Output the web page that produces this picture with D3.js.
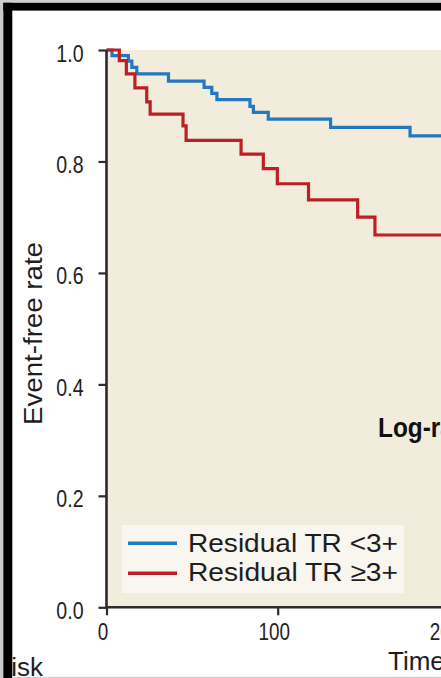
<!DOCTYPE html>
<html>
<head>
<meta charset="utf-8">
<script src="https://cdn.jsdelivr.net/npm/d3@7"></script>
<style>
  html, body { margin: 0; padding: 0; background: #fff; }
  svg { display: block; }
</style>
</head>
<body>
<div id="chart"></div>
<script>
// Kaplan–Meier event-free curves by residual TR grade
const blueTime = [0, 3.2, 12.8, 14.8, 17.7, 36.2, 57, 61.5, 64.5, 83.8, 85.8, 94.5, 130.9, 177.3, 200];
const blueSurv = [1, 0.990, 0.980, 0.969, 0.957, 0.944, 0.933, 0.922, 0.911, 0.899, 0.888, 0.876, 0.861, 0.846, 0.846];
const redTime  = [0, 7.5, 11.6, 16.6, 23.5, 25.5, 44.7, 46.5, 78.6, 91.6, 99.8, 118, 146.7, 156.8, 200];
const redSurv  = [1, 0.981, 0.957, 0.932, 0.907, 0.885, 0.864, 0.838, 0.813, 0.787, 0.760, 0.731, 0.700, 0.668, 0.668];

const seriesNames = ["Residual TR <3+", "Residual TR \u22653+"];
const seriesColors = ["#2477c0", "#bb2026"];
const yTicks = [0, 0.2, 0.4, 0.6, 0.8, 1.0];
const xTicks = [0, 100, 200];

const W = 441, H = 678;
const svg = d3.select("#chart").append("svg").attr("width", W).attr("height", H);
svg.append("rect").attr("width", W).attr("height", H).attr("fill", "#fff");

const x = d3.scaleLinear().domain([0, 100]).range([106.5, 277.7]);
const y = d3.scaleLinear().domain([0, 1]).range([607.3, 50]);

// condensed text helper: squeeze the rendered width
function squeeze(sel, k) {
  sel.each(function () {
    const w = this.getComputedTextLength();
    d3.select(this).attr("textLength", w * k).attr("lengthAdjust", "spacingAndGlyphs");
  });
}

// plot panel
svg.append("rect")
  .attr("x", x(0)).attr("y", y(1))
  .attr("width", W - x(0)).attr("height", y(0) - y(1))
  .attr("fill", "#f1ecdb");

svg.append("clipPath").attr("id", "plotclip")
  .append("rect").attr("x", x(0) - 2).attr("y", y(1) - 4)
  .attr("width", W).attr("height", y(0) - y(1) + 4);

const line = d3.line()
  .x(d => x(d[0])).y(d => y(d[1]))
  .curve(d3.curveStepAfter);

const curves = [
  d3.zip(blueTime, blueSurv),
  d3.zip(redTime, redSurv)
];

const g = svg.append("g").attr("clip-path", "url(#plotclip)");
curves.forEach((pts, i) => {
  g.append("path").datum(pts)
    .attr("d", line)
    .attr("fill", "none")
    .attr("stroke", seriesColors[i])
    .attr("stroke-width", 3.2)
    .attr("stroke-linejoin", "miter");
});

// axes
const tickFont = "'Liberation Sans', Arial, sans-serif";
const axisColor = "#2b2b2b";

const yAxis = svg.append("g")
  .attr("transform", `translate(${x(0)},0)`)
  .call(d3.axisLeft(y).tickValues(yTicks).tickFormat(d3.format(".1f")).tickSize(8).tickSizeOuter(0).tickPadding(15));
const xAxis = svg.append("g")
  .attr("transform", `translate(0,${y(0)})`)
  .call(d3.axisBottom(x).tickValues(xTicks).tickFormat(d3.format("d")).tickSize(8).tickSizeOuter(0).tickPadding(10));

[yAxis, xAxis].forEach(a => {
  a.select(".domain").attr("stroke", axisColor).attr("stroke-width", 2.6);
  a.selectAll(".tick line").attr("stroke", axisColor).attr("stroke-width", 2.2);
  a.selectAll(".tick text")
    .attr("fill", "#222")
    .style("font-family", tickFont)
    .style("font-size", "23px");
});
// extend the left axis line down through the x-axis
yAxis.select(".domain").attr("d", `M0,${y(1)}V${y(0) + 1}`);
xAxis.select(".domain").attr("d", `M${x(0)},0H${W}`);

yAxis.selectAll(".tick text").attr("dy", "11px");
xAxis.selectAll(".tick text").attr("dy", "0").attr("y", 33).attr("dx", "-4");
yAxis.selectAll(".tick text").call(squeeze, 0.85);
xAxis.selectAll(".tick text").call(squeeze, 0.82);

// axis titles
svg.append("text")
  .attr("transform", "translate(42,333.5) rotate(-90)")
  .attr("text-anchor", "middle")
  .style("font-family", tickFont).style("font-size", "26px")
  .attr("fill", "#1e1e1e")
  .attr("textLength", 183).attr("lengthAdjust", "spacingAndGlyphs")
  .text("Event-free rate");

svg.append("text")
  .attr("x", 388).attr("y", 670)
  .style("font-family", tickFont).style("font-size", "26px")
  .attr("fill", "#1e1e1e")
  .text("Time (days)");

svg.append("text")
  .attr("x", 43).attr("y", 676)
  .attr("text-anchor", "end")
  .style("font-family", tickFont).style("font-size", "26px")
  .attr("fill", "#1e1e1e")
  .text("Number at risk");

// log-rank annotation
svg.append("text")
  .attr("x", 378).attr("y", 437)
  .style("font-family", tickFont).style("font-size", "28px").style("font-weight", "bold")
  .attr("fill", "#111")
  .text("Log-rank")
  .call(squeeze, 0.87);

// legend
const legend = svg.append("g");
legend.append("rect")
  .attr("x", 122).attr("y", 525).attr("width", 282).attr("height", 68)
  .attr("fill", "#f8f6ef");
seriesNames.forEach((name, i) => {
  const ly = 543.3 + i * 30;
  legend.append("line")
    .attr("x1", 128).attr("x2", 177).attr("y1", ly).attr("y2", ly)
    .attr("stroke", seriesColors[i]).attr("stroke-width", 3.4);
  legend.append("text")
    .attr("x", 188).attr("y", 552 + i * 28.8)
    .style("font-family", tickFont).style("font-size", "26px")
    .attr("fill", "#1e1e1e")
    .attr("textLength", 210).attr("lengthAdjust", "spacingAndGlyphs")
    .text(name);
});

// frame
svg.append("rect").attr("x", 0).attr("y", 0).attr("width", 3.3).attr("height", H).attr("fill", "#c9c9c9");
svg.append("rect").attr("x", 0).attr("y", 0).attr("width", W).attr("height", 2.8).attr("fill", "#cfcfcf");
svg.append("rect").attr("x", 3.3).attr("y", 2.8).attr("width", 9).attr("height", H).attr("fill", "#000");
svg.append("rect").attr("x", 3.3).attr("y", 2.8).attr("width", W).attr("height", 7.8).attr("fill", "#000");
svg.append("rect").attr("x", 12.3).attr("y", 676.8).attr("width", W).attr("height", 1.2).attr("fill", "#d0d0d0");
</script>
</body>
</html>
